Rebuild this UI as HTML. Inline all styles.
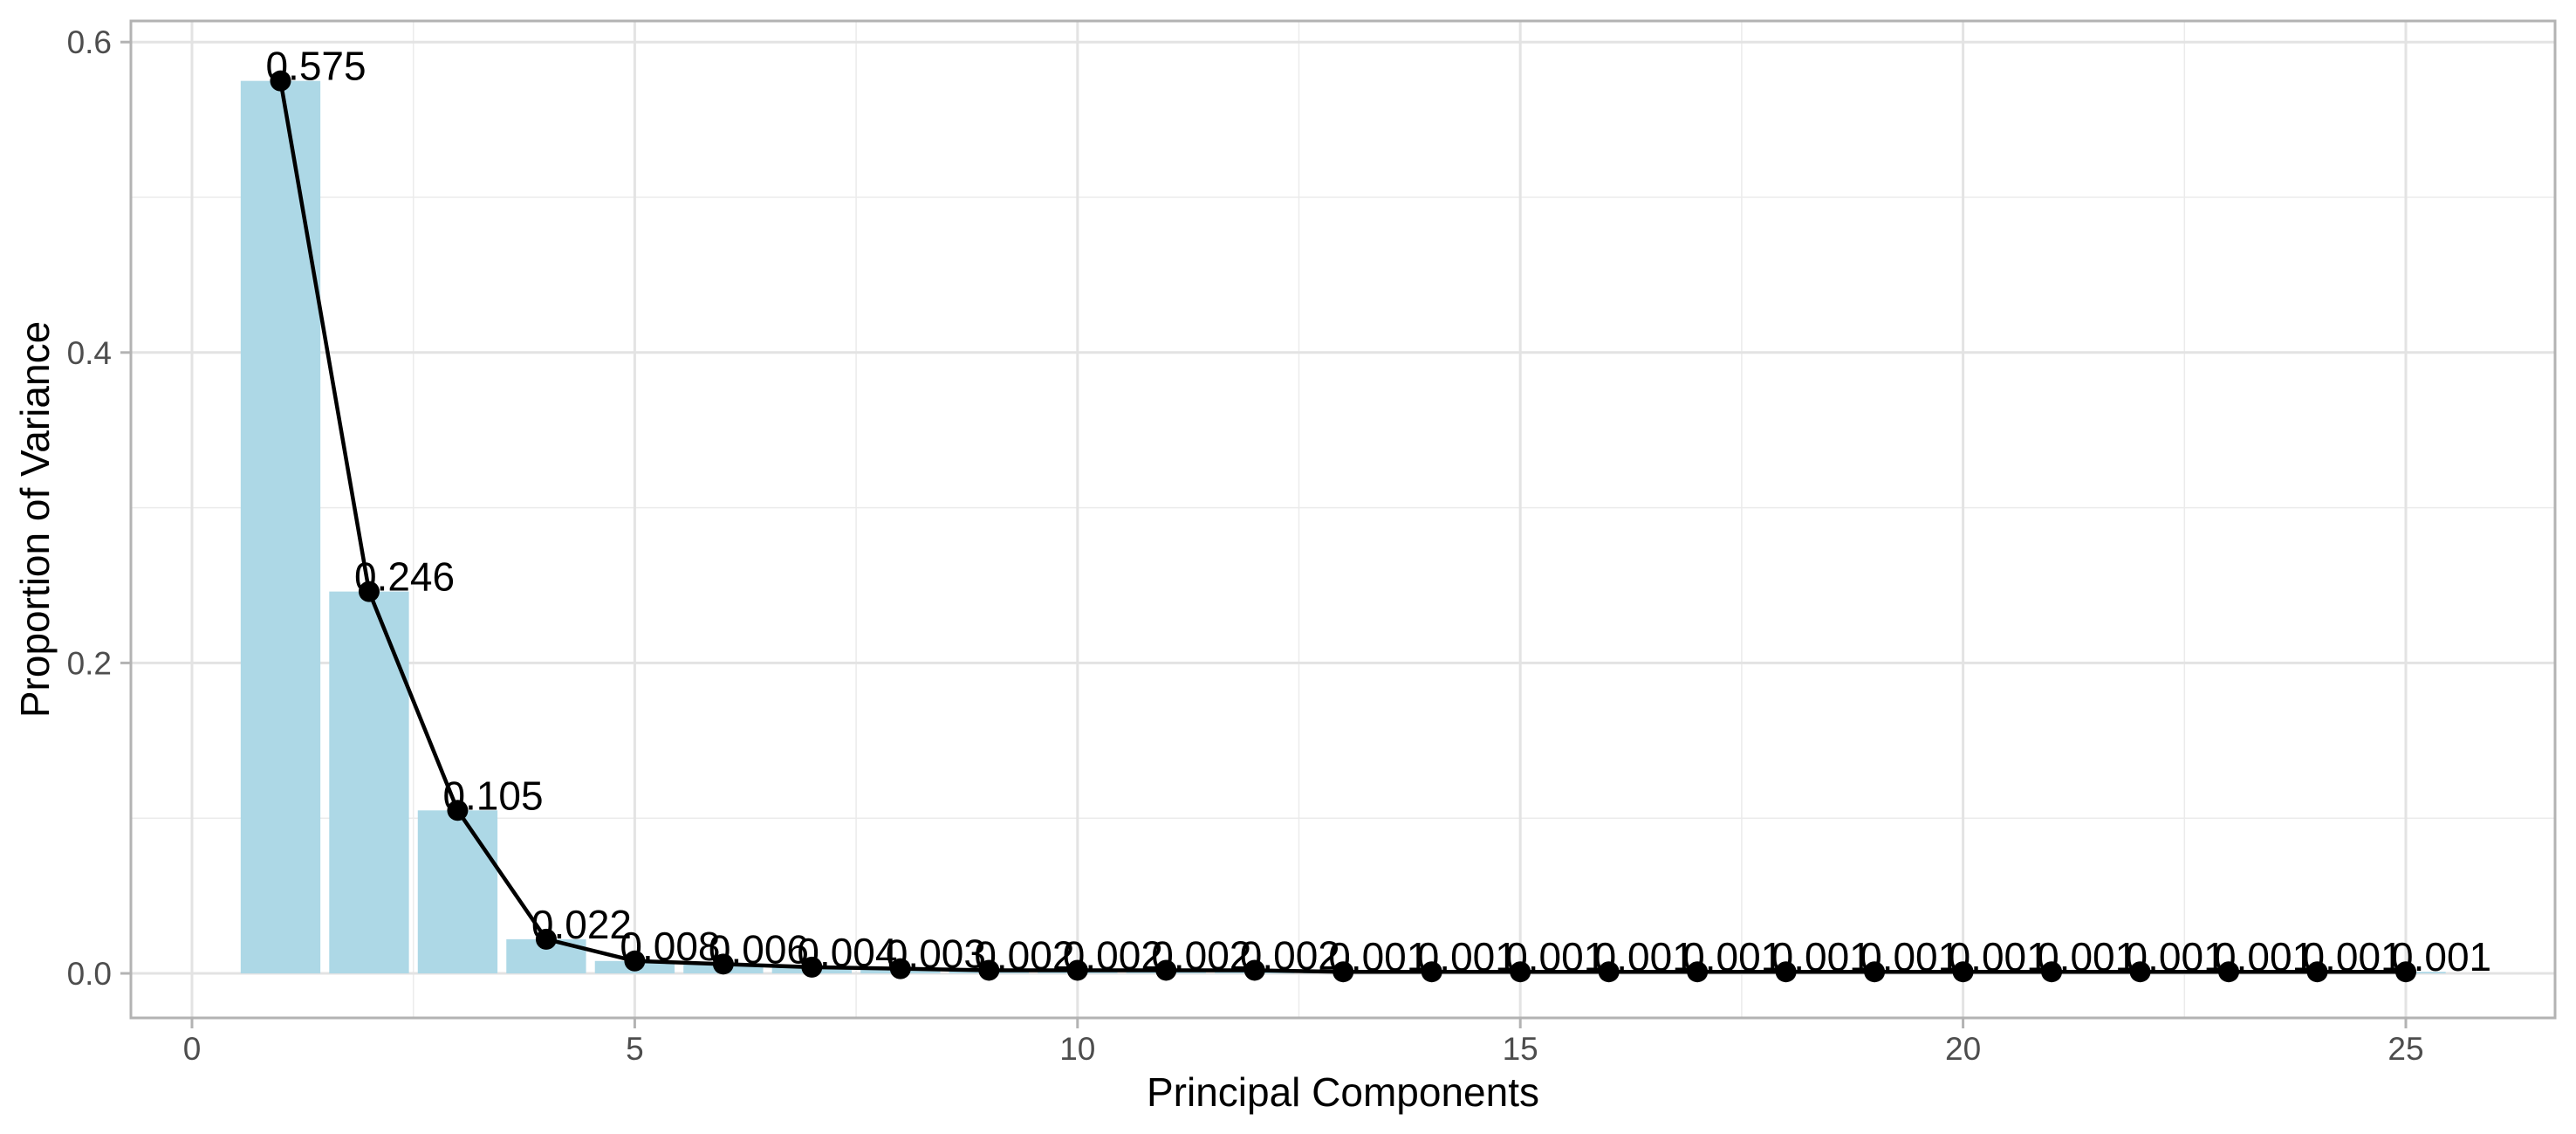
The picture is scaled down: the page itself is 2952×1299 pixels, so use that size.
<!DOCTYPE html>
<html><head><meta charset="utf-8"><style>
html,body{margin:0;padding:0;background:#fff;}
svg{display:block;font-family:"Liberation Sans",Arial,sans-serif;}
</style></head><body>
<svg id="chart" width="2952" height="1299" viewBox="0 0 2952 1299" xmlns="http://www.w3.org/2000/svg">
<rect x="0" y="0" width="2952" height="1299" fill="#fff"/>
<g id="grid"></g>
<g id="bars"></g>
<g id="line"></g>
<g id="labels"></g>
<rect x="150" y="24" width="2778" height="1142" fill="none" stroke="#b3b3b3" stroke-width="3"/>
<g id="axes"></g>
<text x="1539" y="1267" font-size="46" text-anchor="middle" fill="#000">Principal Components</text>
<text transform="translate(56,595) rotate(-90)" font-size="46" text-anchor="middle" fill="#000">Proportion of Variance</text>
</svg>
<script>
const components = [1,2,3,4,5,6,7,8,9,10,11,12,13,14,15,16,17,18,19,20,21,22,23,24,25];
const variance = [0.575,0.246,0.105,0.022,0.008,0.006,0.004,0.003,0.002,0.002,0.002,0.002,0.001,0.001,0.001,0.001,0.001,0.001,0.001,0.001,0.001,0.001,0.001,0.001,0.001];
const xTicks = [0,5,10,15,20,25];
const xMinor = [2.5,7.5,12.5,17.5,22.5];
const yTicks = [0,0.2,0.4,0.6];
const yTickLabels = ["0.0","0.2","0.4","0.6"];
const yMinor = [0.1,0.3,0.5];

const PL=150, PR=2928, PT=24, PB=1166;
const X0=220, XU=101.48;
const Y0=1115, YU=1778;
function sx(v){return X0+v*XU;}
function sy(v){return Y0-v*YU;}
const NS='http://www.w3.org/2000/svg';
function mk(tag, attrs, parent){const e=document.createElementNS(NS,tag);for(const k in attrs)e.setAttribute(k,attrs[k]);parent.appendChild(e);return e;}
const grid=document.getElementById('grid'), bars=document.getElementById('bars'), line=document.getElementById('line'), labels=document.getElementById('labels'), axes=document.getElementById('axes');

xMinor.forEach(v=>{const l=mk('line',{x1:sx(v),x2:sx(v),y1:PT,y2:PB,stroke:'#ebebeb','stroke-width':1.5},grid);

});
yMinor.forEach(v=>{const l=mk('line',{x1:PL,x2:PR,y1:sy(v),y2:sy(v),stroke:'#ebebeb','stroke-width':1.5},grid);

});
xTicks.forEach(v=>{const l=mk('line',{x1:sx(v),x2:sx(v),y1:PT,y2:PB,stroke:'#e3e3e3','stroke-width':3},grid);


const t=mk('line',{x1:sx(v),x2:sx(v),y1:PB,y2:PB+12,stroke:'#b3b3b3','stroke-width':3},axes);


const tx=mk('text',{x:sx(v),y:1214,'font-size':37,'text-anchor':'middle',fill:'#4d4d4d'},axes);tx.textContent=String(v);

});
yTicks.forEach((v,i)=>{const l=mk('line',{x1:PL,x2:PR,y1:sy(v),y2:sy(v),stroke:'#e3e3e3','stroke-width':3},grid);


const t=mk('line',{x1:PL-12,x2:PL,y1:sy(v),y2:sy(v),stroke:'#b3b3b3','stroke-width':3},axes);


const tx=mk('text',{x:128,y:sy(v)+13,'font-size':37,'text-anchor':'end',fill:'#4d4d4d'},axes);tx.textContent=yTickLabels[i];

});

components.forEach((c,i)=>{const v=variance[i];const w=0.9*XU;
const b=mk('rect',{x:sx(c)-w/2,y:sy(v),width:w,height:Math.max(0.5,Y0-sy(v)),fill:'#add8e6'},bars);

});
const pts=components.map((c,i)=>sx(c)+','+sy(variance[i])).join(' ');
const pl=mk('polyline',{points:pts,fill:'none',stroke:'#000','stroke-width':4.5,'stroke-linejoin':'round'},line);


components.forEach((c,i)=>{const p=mk('circle',{cx:sx(c),cy:sy(variance[i]),r:12,fill:'#000'},line);

});
components.forEach((c,i)=>{const t=mk('text',{x:sx(c)-17,y:sy(variance[i])-1,'font-size':46,fill:'#000'},labels);t.textContent=variance[i].toFixed(3);

});
</script>
</body></html>
